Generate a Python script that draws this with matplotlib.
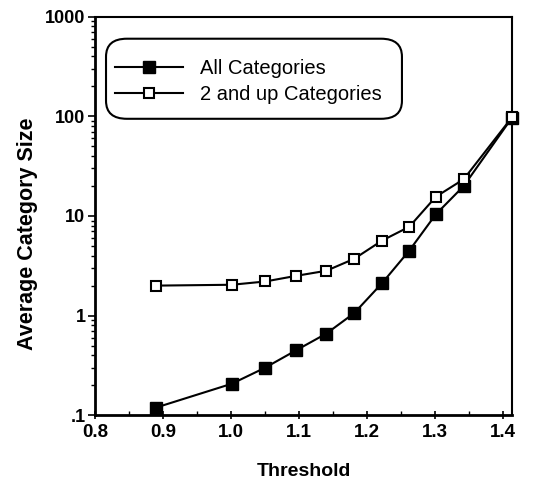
import numpy as np
import matplotlib
matplotlib.use("Agg")
import matplotlib.pyplot as plt
from matplotlib.patches import FancyBboxPatch
from matplotlib.ticker import FixedLocator, LogLocator, NullFormatter, MultipleLocator

plt.rcParams['font.family'] = ['Liberation Sans', 'DejaVu Sans']

# Data
threshold = [0.889, 1.001, 1.050, 1.096, 1.140, 1.181, 1.222, 1.262, 1.301, 1.342, 1.413]
all_cat = [0.119, 0.207, 0.30, 0.45, 0.66, 1.06, 2.12, 4.5, 10.4, 20.0, 97.0]
two_up_cat = [2.0, 2.04, 2.2, 2.51, 2.82, 3.72, 5.67, 7.8, 15.6, 23.4, 98.0]

x_ticks = [0.8, 0.9, 1.0, 1.1, 1.2, 1.3, 1.4]
x_ticklabels = ["0.8", "0.9", "1.0", "1.1", "1.2", "1.3", "1.4"]
y_ticks = [0.1, 1, 10, 100, 1000]
y_ticklabels = [".1", "1", "10", "100", "1000"]

fig = plt.figure(figsize=(5.47, 4.8), dpi=100)
ax = fig.add_axes([0.174, 0.135, 0.762, 0.83])

ax.plot(threshold, all_cat, color="black", lw=1.5, marker="s", ms=9,
        mfc="black", mec="black", label="All Categories", clip_on=False, zorder=3)
ax.plot(threshold, two_up_cat, color="black", lw=1.5, marker="s", ms=7.5,
        mfc="white", mec="black", mew=1.5, label="2 and up Categories", clip_on=False, zorder=4)

ax.set_yscale("log")
ax.set_xlim(0.8, 1.413)
ax.set_ylim(0.1, 1000)

ax.xaxis.set_major_locator(FixedLocator(x_ticks))
ax.set_xticklabels(x_ticklabels)
ax.xaxis.set_minor_locator(MultipleLocator(0.05))
ax.yaxis.set_major_locator(FixedLocator(y_ticks))
ax.set_yticklabels(y_ticklabels)
ax.yaxis.set_minor_locator(LogLocator(base=10, subs=np.arange(2, 10)))
ax.yaxis.set_minor_formatter(NullFormatter())

ax.tick_params(axis="x", which="major", direction="inout", length=6, width=1.2, pad=3)
ax.tick_params(axis="x", which="minor", direction="in", length=3, width=1)
ax.tick_params(axis="y", which="major", direction="out", length=5, width=1.2, pad=2)
ax.tick_params(axis="y", which="minor", direction="out", length=3, width=1)
for lab in ax.get_xticklabels():
    lab.set_fontweight("bold")
    lab.set_fontsize(13.5)
for lab in ax.get_yticklabels():
    lab.set_fontweight("bold")
    lab.set_fontsize(13)

for side in ["left", "bottom"]:
    ax.spines[side].set_linewidth(2)
for side in ["top", "right"]:
    ax.spines[side].set_linewidth(1.5)

ax.set_xlabel("Threshold", fontsize=14, fontweight="bold", labelpad=16)
ax.set_ylabel("Average Category Size", fontsize=15.5, fontweight="bold")
ax.yaxis.set_label_coords(-0.137, 0.455)

# legend without its own frame, plus a rounded box around it
leg = ax.legend(loc="upper left", bbox_to_anchor=(0.048, 0.893), fontsize=14.5,
                handlelength=3.35, handletextpad=0.85, labelspacing=0.33,
                borderpad=0, frameon=False, borderaxespad=0)
box = FancyBboxPatch((0.026, 0.744), 0.71, 0.201, transform=ax.transAxes,
                     boxstyle="round,pad=0,rounding_size=0.05",
                     fc="white", ec="black", lw=1.5, zorder=2.5,
                     mutation_aspect=0.9)
ax.add_patch(box)
leg.set_zorder(5)

fig.savefig("out.png", dpi=100)
